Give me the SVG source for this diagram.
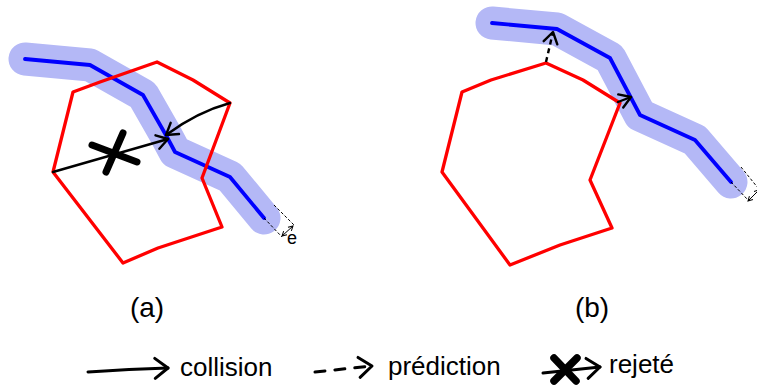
<svg xmlns="http://www.w3.org/2000/svg" width="757" height="391" viewBox="0 0 757 391">
<style>
.halo{fill:none;stroke:#b4b8f6;stroke-width:33;stroke-linecap:round;stroke-linejoin:round}
.path{fill:none;stroke:#0000ff;stroke-width:3.8;stroke-linecap:round;stroke-linejoin:round}
.obst{fill:none;stroke:#ff0000;stroke-width:3.3;stroke-linejoin:round}
.arr{fill:none;stroke:#000;stroke-width:2.4;stroke-linecap:round;marker-end:url(#ah)}
.dash{fill:none;stroke:#000;stroke-width:2.4;stroke-dasharray:5,4;marker-end:url(#ah)}
.dim{fill:none;stroke:#000;stroke-width:1;stroke-dasharray:3,2}
.dimarr{fill:none;stroke:#000;stroke-width:1;marker-start:url(#sh);marker-end:url(#sh)}
.rej{fill:none;stroke:#000;stroke-linecap:round}
.txt{font-family:"Liberation Sans","DejaVu Sans",sans-serif;fill:#000}
.leg{fill:none;stroke:#000;stroke-width:3;stroke-linecap:round;marker-end:url(#ahL)}
</style>
<defs>
<marker id="ah" viewBox="0 0 14 14" refX="12" refY="7" markerWidth="14" markerHeight="14" markerUnits="userSpaceOnUse" orient="auto" overflow="visible">
<path d="M1,0 L12,7 L1,14" fill="none" stroke="#000" stroke-width="2.4" stroke-linecap="round" stroke-linejoin="round"/>
</marker>
<marker id="ahL" viewBox="0 0 16 22" refX="14" refY="11" markerWidth="16" markerHeight="22" markerUnits="userSpaceOnUse" orient="auto" overflow="visible">
<path d="M1,1 L14,11 L1,21" fill="none" stroke="#000" stroke-width="3" stroke-linecap="round" stroke-linejoin="round"/>
</marker>
<marker id="sh" viewBox="0 0 6 6" refX="5.5" refY="3" markerWidth="6" markerHeight="6" markerUnits="userSpaceOnUse" orient="auto-start-reverse" overflow="visible">
<path d="M1,0.5 L5.5,3 L1,5.5" fill="none" stroke="#000" stroke-width="1"/>
</marker>
</defs>

<g id="panel-a">
<g id="a-path">
<polyline class="halo" points="25,59 90,65 143,95 167,137 175,152 230,177 264,218"/>
<polyline class="path" points="25,59 90,65 143,95 167,137 175,152 230,177 264,218"/>
</g>
<g id="a-obstacle">
<polygon class="obst" points="73,92 100,82 157,62 193,80 230,103 202,178 222,227 158,248 123,263 53,172"/>
</g>
<g id="a-connectors">
<path class="arr" d="M230,103 Q197,112 166,135"/>
<path class="arr" d="M53,172 L168,139"/>
<g id="a-reject">
<line class="rej" stroke-width="7" x1="92" y1="145" x2="137" y2="162"/>
<line class="rej" stroke-width="7" x1="106" y1="172" x2="123" y2="133"/>
</g>
<line class="dim" x1="264" y1="218" x2="282" y2="237"/>
<line class="dim" x1="274" y1="205" x2="294" y2="225"/>
<line class="dimarr" x1="282" y1="236" x2="293" y2="226"/>
</g>
<text class="txt" x="287" y="244" font-size="18">e</text>
<text class="txt" x="147" y="317" font-size="28" text-anchor="middle">(a)</text>
</g>

<g id="panel-b">
<g id="b-path">
<polyline class="halo" points="492,23 557,29 610,58 640,115 695,140 731,182"/>
<polyline class="path" points="492,23 557,29 610,58 640,115 695,140 731,182"/>
</g>
<g id="b-obstacle">
<polygon class="obst" stroke-width="3.8" points="546,63 583,80 620,103 590,180 612,228 560,245 510,265 442,172 462,92 491,80"/>
</g>
<g id="b-connectors">
<path class="dash" d="M546,62 L553,32"/>
<path class="arr" d="M618,102 L631,97"/>
<line class="dim" x1="731" y1="182" x2="748" y2="200"/>
<line class="dim" x1="741" y1="167" x2="758" y2="188"/>
<line class="dimarr" x1="748" y1="201" x2="759" y2="190"/>
</g>
<text class="txt" x="592" y="317" font-size="28" text-anchor="middle">(b)</text>
</g>

<g id="legend">
<g id="leg-collision">
<path class="leg" d="M88,372 Q130,369 168,368"/>
<text class="txt" x="180" y="376" font-size="26">collision</text>
</g>
<g id="leg-prediction">
<path class="leg" d="M315,372 L372,366" stroke-dasharray="10,10"/>
<text class="txt" x="388" y="375" font-size="26">prédiction</text>
</g>
<g id="leg-rejete">
<path class="leg" d="M543,373 L600,367"/>
<line class="rej" stroke-width="7.5" x1="554" y1="358" x2="576" y2="381"/>
<line class="rej" stroke-width="7.5" x1="577" y1="358" x2="554" y2="381"/>
<text class="txt" x="609" y="373" font-size="26">rejeté</text>
</g>
</g>
</svg>
